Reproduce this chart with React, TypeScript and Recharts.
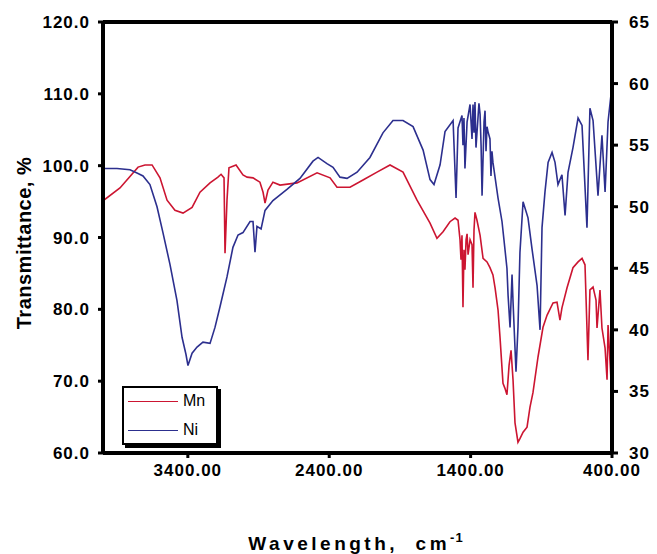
import React from 'react';
import { LineChart, Line, XAxis, YAxis, Legend, ReferenceLine } from 'recharts';

// ---- Data ----
const mnWavenumber = [
  4000, 3880, 3752, 3703, 3653, 3597, 3547, 3491, 3434, 3370, 3314, 3243, 3187, 3165, 3144, 3137, 3123, 3109,
  3059, 3010, 2981, 2939, 2890, 2868, 2854, 2833, 2798, 2748, 2628, 2486, 2394, 2345, 2253, 2161, 2062, 1970,
  1878, 1779, 1687, 1638, 1595, 1546, 1510, 1489, 1475, 1468, 1461, 1454, 1447, 1440, 1432, 1425, 1418, 1404,
  1390, 1383, 1376, 1369, 1355, 1333, 1312, 1284, 1263, 1242, 1227, 1206, 1192, 1171, 1157, 1143, 1128, 1114,
  1100, 1086, 1065, 1051, 1029, 1001, 980, 959, 923, 888, 859, 817, 789, 768, 754, 718, 676, 640, 612, 591,
  570, 556, 534, 513, 506, 485, 471, 449, 435, 428, 414, 407,
];
const mnTransmittance = [
  95.1, 96.9, 99.8, 100.1, 100.1, 98.3, 95.2, 93.8, 93.4, 94.2, 96.3, 97.6, 98.4, 98.8, 98.3, 87.8, 95.2, 99.7,
  100.1, 98.7, 98.4, 98.3, 97.7, 96.3, 94.8, 96.6, 97.7, 97.3, 97.6, 99.0, 98.3, 97.0, 97.0, 98.0, 99.1, 100.1,
  99.1, 95.2, 92.0, 89.9, 90.8, 92.2, 92.7, 92.4, 89.7, 86.9, 90.3, 80.3, 88.3, 85.5, 89.7, 90.5, 87.6, 89.7,
  89.0, 83.0, 91.0, 93.5, 92.4, 90.3, 87.1, 86.6, 85.8, 84.8, 83.0, 79.9, 76.1, 69.7, 69.0, 68.1, 72.2, 74.3,
  70.2, 64.2, 61.5, 62.0, 62.9, 63.6, 66.4, 68.4, 73.4, 77.5, 79.2, 80.9, 81.0, 78.5, 80.2, 83.0, 85.8, 86.6,
  87.1, 86.2, 72.9, 82.7, 83.1, 81.3, 77.4, 82.7, 77.4, 74.6, 70.2, 77.8, 72.7, 70.2,
];

const niWavenumber = [
  4000, 3901, 3809, 3752, 3717, 3668, 3618, 3576, 3526, 3477, 3441, 3413, 3399, 3370, 3335, 3293, 3243, 3208,
  3172, 3123, 3081, 3045, 3010, 2960, 2939, 2925, 2911, 2882, 2854, 2798, 2699, 2607, 2515, 2479, 2416, 2373,
  2324, 2274, 2203, 2112, 2020, 1949, 1878, 1807, 1736, 1687, 1659, 1616, 1581, 1524, 1503, 1489, 1461, 1454,
  1447, 1440, 1425, 1404, 1390, 1383, 1376, 1369, 1362, 1341, 1333, 1326, 1319, 1305, 1298, 1291, 1284, 1277,
  1263, 1256, 1249, 1242, 1206, 1178, 1164, 1143, 1135, 1121, 1107, 1100, 1079, 1065, 1051, 1029, 994, 966,
  930, 909, 895, 874, 852, 824, 803, 782, 754, 732, 711, 676, 640, 612, 577, 556, 534, 499, 471, 449, 428, 407,
];
const niTransmittance = [
  53.1, 53.1, 53.0, 52.7, 52.5, 51.8, 50.0, 47.9, 45.3, 42.4, 39.4, 38.0, 37.1, 38.1, 38.6, 39.0, 38.9, 40.2,
  41.9, 44.3, 46.7, 47.7, 47.9, 48.8, 48.8, 46.3, 48.4, 48.2, 49.7, 50.5, 51.4, 52.3, 53.7, 54.0, 53.5, 53.2,
  52.4, 52.3, 52.8, 54.0, 56.0, 57.0, 57.0, 56.5, 54.6, 52.2, 51.8, 53.4, 56.1, 57.0, 50.7, 56.4, 57.4, 55.0,
  57.2, 53.1, 56.9, 58.3, 55.5, 58.3, 56.0, 58.5, 54.8, 58.4, 57.5, 55.0, 50.9, 56.9, 57.8, 54.5, 56.5, 56.1,
  55.5, 52.5, 54.5, 53.6, 50.7, 48.8, 47.3, 45.0, 42.8, 40.2, 44.5, 42.3, 36.6, 40.2, 46.3, 50.4, 49.1, 46.6,
  43.6, 40.0, 48.3, 51.2, 53.6, 54.4, 53.6, 51.8, 52.6, 49.3, 52.8, 54.8, 57.2, 56.6, 48.3, 58.0, 57.0, 50.9,
  55.8, 51.2, 56.9, 59.1,
];

const xTicks = [3400, 2400, 1400, 400];
const leftTicks = [60, 70, 80, 90, 100, 110, 120];
const rightTicks = [30, 35, 40, 45, 50, 55, 60, 65];

const mnData = mnWavenumber.map((w, i) => ({ w, v: mnTransmittance[i] }));
const niData = niWavenumber.map((w, i) => ({ w, v: niTransmittance[i] }));

const RED = '#CC1531';
const BLUE = '#2C2F8E';
const FONT = '"Liberation Sans", Arial, Helvetica, sans-serif';

const tickStyle = { fill: '#000', fontSize: 17, fontWeight: 700, fontFamily: FONT, letterSpacing: 1 };
const axisLineStyle = { stroke: '#000', strokeWidth: 4 };
const tickLineStyle = { stroke: '#000', strokeWidth: 3 };

const LegendBox = () => (
  <div
    style={{
      width: 92,
      height: 55,
      border: '2px solid #000',
      boxShadow: '3px 3px 0 #000',
      background: '#fff',
      fontFamily: FONT,
      fontSize: 16,
      color: '#000',
      boxSizing: 'content-box',
      position: 'relative',
    }}
  >
    {[
      { name: 'Mn', color: RED, top: 13 },
      { name: 'Ni', color: BLUE, top: 42 },
    ].map((it) => (
      <div key={it.name} style={{ position: 'absolute', left: 4, top: it.top - 9, height: 18, display: 'flex', alignItems: 'center' }}>
        <div style={{ width: 50, height: 0, borderTop: `1.5px solid ${it.color}` }} />
        <span style={{ marginLeft: 5, lineHeight: '18px' }}>{it.name}</span>
      </div>
    ))}
  </div>
);

export default function App() {
  return (
    <div style={{ position: 'absolute', left: 0, top: 0, width: 657, height: 554, background: '#fff' }}>
      <LineChart width={657} height={554} margin={{ top: 22, right: 0, bottom: 0, left: 0 }}>
        <XAxis
          dataKey="w"
          type="number"
          domain={[400, 4000]}
          reversed
          allowDataOverflow
          ticks={xTicks}
          tickFormatter={(v: number) => v.toFixed(2)}
          tick={tickStyle}
          tickSize={5}
          tickMargin={6}
          axisLine={axisLineStyle}
          tickLine={tickLineStyle}
          height={101}
          interval={0}
          label={() => (
            <text x={356} y={550} textAnchor="middle" fontFamily={FONT} fontSize={19} fontWeight={700} letterSpacing={3.5} fill="#000" style={{ whiteSpace: 'pre' }}>
              {'Wavelength,  cm'}
              <tspan dy={-8} fontSize={13} letterSpacing={1}>-1</tspan>
            </text>
          )}
        />
        <YAxis
          yAxisId="left"
          orientation="left"
          domain={[60, 120]}
          ticks={leftTicks}
          tickFormatter={(v: number) => v.toFixed(1)}
          tick={tickStyle}
          tickSize={5}
          tickMargin={8}
          axisLine={axisLineStyle}
          tickLine={tickLineStyle}
          width={103}
          interval={0}
          allowDataOverflow
          label={() => (
            <text x={31} y={243} transform="rotate(-90 31 243)" textAnchor="middle" fontFamily={FONT} fontSize={20} fontWeight={700} letterSpacing={0.5} fill="#000">
              Transmittance, %
            </text>
          )}
        />
        <YAxis
          yAxisId="right"
          orientation="right"
          domain={[30, 65]}
          ticks={rightTicks}
          tick={tickStyle}
          tickSize={6}
          tickMargin={11}
          axisLine={axisLineStyle}
          tickLine={tickLineStyle}
          width={45}
          interval={0}
          allowDataOverflow
        />
        <ReferenceLine yAxisId="left" y={120} stroke="#000" strokeWidth={4} />
        <Line
          yAxisId="left"
          data={mnData}
          dataKey="v"
          name="Mn"
          type="linear"
          stroke={RED}
          strokeWidth={1.6}
          dot={false}
          isAnimationActive={false}
        />
        <Line
          yAxisId="right"
          data={niData}
          dataKey="v"
          name="Ni"
          type="linear"
          stroke={BLUE}
          strokeWidth={1.6}
          dot={false}
          isAnimationActive={false}
        />
        <Legend
          layout="horizontal"
          verticalAlign="middle"
          align="center"
          content={() => <LegendBox />}
          wrapperStyle={{ left: 122, top: 386, width: 96, height: 59, position: 'absolute' }}
        />
      </LineChart>
    </div>
  );
}
